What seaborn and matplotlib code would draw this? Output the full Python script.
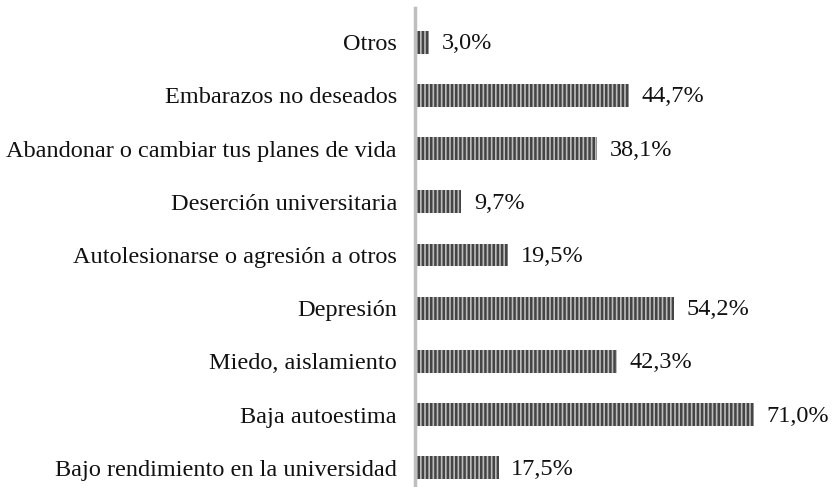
import matplotlib
matplotlib.use("Agg")
import matplotlib.pyplot as plt
import seaborn as sns
import pandas as pd

categories = ["Otros", "Embarazos no deseados", "Abandonar o cambiar tus planes de vida",
              "Deserción universitaria", "Autolesionarse o agresión a otros", "Depresión",
              "Miedo, aislamiento", "Baja autoestima", "Bajo rendimiento en la universidad"]
values = [3.0, 44.7, 38.1, 9.7, 19.5, 54.2, 42.3, 71.0, 17.5]
value_labels = ["3,0%", "44,7%", "38,1%", "9,7%", "19,5%", "54,2%", "42,3%", "71,0%", "17,5%"]

df = pd.DataFrame({"categoria": categories, "valor": values})

sns.set_style("white")
plt.rcParams['font.family'] = ['Liberation Serif', 'DejaVu Serif']
plt.rcParams['hatch.linewidth'] = 1.8

fig = plt.figure(figsize=(8.33, 4.87), dpi=100)
ax = fig.add_axes([415 / 833, 0.0, 1 - 415 / 833, 1 - 8 / 487])

sns.barplot(data=df, x="valor", y="categoria", order=categories, ax=ax,
            color="#bcbcbc", width=0.43, edgecolor="#444444", linewidth=0)
for bar in ax.patches:
    bar.set_hatch("||||")

# value labels to the right of each bar
for i, (v, lab) in enumerate(zip(values, value_labels)):
    ax.text(v + 2.6, i + 0.03, lab, va="center", ha="left", fontsize=17.5, color="#111111")

ax.set_xlim(0, 418 / 4.78)
ax.set_ylim(8.36, -0.64)
ax.set_xlabel("")
ax.set_ylabel("")
ax.set_xticks([])
ax.tick_params(axis="y", length=0, pad=13, labelsize=17.5, labelcolor="#111111")
for s in ["top", "right", "bottom"]:
    ax.spines[s].set_visible(False)
ax.spines["left"].set_color("#bfbfbf")
ax.spines["left"].set_linewidth(2.5)

fig.savefig("out.png", dpi=100)
